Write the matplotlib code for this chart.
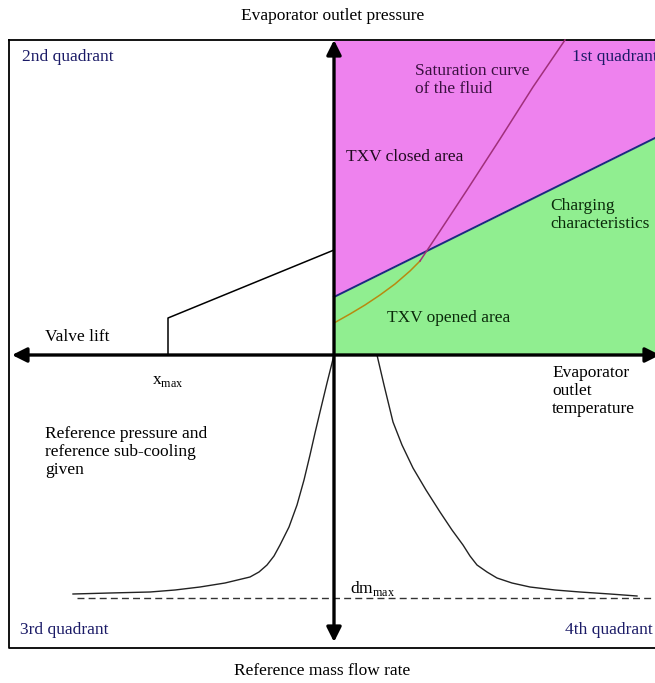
import matplotlib.pyplot as plt

plt.rcParams['font.family'] = ['Liberation Serif', 'DejaVu Serif']

# schematic coordinates (pixel space, y downwards)
x_origin, y_origin = 334, 355
box = (9, 40, 662, 648)               # left, top, right, bottom

# charging characteristics line in the 1st quadrant
charge_x = [334, 655]
charge_y = [297, 138]

# saturation curve of the fluid (lower part under the line, upper part above)
sat_low_x = [334, 350, 365, 380, 395, 410, 420]
sat_low_y = [323, 314, 305, 295, 284, 271, 261]
sat_up_x = [420, 440, 467, 500, 533, 565]
sat_up_y = [261, 231, 190, 139, 87, 40]

# valve lift characteristic in the 2nd quadrant
valve_x = [334, 168, 168]
valve_y = [250, 318, 355]

# mass flow curves in the 3rd and 4th quadrants
left_x = [334, 327, 320, 315, 310, 304, 297, 289, 280, 274, 267, 259, 250,
          225, 200, 175, 150, 110, 73]
left_y = [355, 383, 412, 433, 455, 480, 505, 527, 545, 556, 565, 572, 577,
          583, 587, 590, 592, 593, 594]
right_x = [377, 384, 393, 402, 413, 426, 440, 452, 463, 470, 477, 487, 497,
           512, 530, 555, 580, 610, 637]
right_y = [355, 385, 422, 445, 468, 490, 512, 530, 545, 556, 565, 572, 578,
           583, 587, 590, 592, 594, 596]

dm_max_y = 598
dm_x = [77, 655]

fig = plt.figure(figsize=(6.55, 6.83), dpi=100)
ax = fig.add_axes([0, 0, 1, 1])
ax.set_xlim(0, 655)
ax.set_ylim(683, 0)
ax.axis('off')

# coloured areas
ax.fill_between(charge_x, [box[1], box[1]], charge_y, color='#ee82ee', lw=0)
ax.fill_between(charge_x, charge_y, [y_origin, y_origin], color='#90ee90', lw=0)

# outer frame
ax.plot([box[0], box[2], box[2], box[0], box[0]],
        [box[1], box[1], box[3], box[3], box[1]], color='black', lw=1.3)

ax.plot(charge_x, charge_y, color='#1b2a80', lw=1.4)
ax.plot(sat_low_x, sat_low_y, color='#b88a10', lw=1.1)
ax.plot(sat_up_x, sat_up_y, color='#a0307a', lw=1.1)
ax.plot(valve_x, valve_y, color='black', lw=1.1)
ax.plot(left_x, left_y, color='#222222', lw=1.0)
ax.plot(right_x, right_y, color='#222222', lw=1.0)
ax.plot(dm_x, [dm_max_y, dm_max_y], color='#333333', lw=1.0, ls=(0, (5, 3)))

# axes with arrows
arrow = dict(arrowstyle='<|-|>', lw=2.4, color='black', mutation_scale=22,
             shrinkA=0, shrinkB=0)
ax.annotate('', xy=(x_origin, 40), xytext=(x_origin, 642), arrowprops=arrow)
ax.annotate('', xy=(12, y_origin), xytext=(660, y_origin), arrowprops=arrow)

fs = 12.5
navy = '#1a1a66'
ax.text(333, 16, 'Evaporator outlet pressure', ha='center', va='center', fontsize=fs)
ax.text(22, 57, '2nd quadrant', va='center', fontsize=fs, color=navy)
ax.text(572, 57, '1st quadrant', va='center', fontsize=fs, color=navy)
ax.text(415, 80, 'Saturation curve\nof the fluid', va='center', fontsize=fs,
        color='#3a1040')
ax.text(346, 157, 'TXV closed area', va='center', fontsize=fs, color='#200a20')
ax.text(550, 215, 'Charging\ncharacteristics', va='center', fontsize=fs,
        color='#0a2a0a')
ax.text(387, 318, 'TXV opened area', va='center', fontsize=fs, color='#0a2a0a')
ax.text(45, 337, 'Valve lift', va='center', fontsize=fs)
ax.text(152, 381, r'x$_{\mathregular{max}}$', va='center', fontsize=fs)
ax.text(552, 391, 'Evaporator\noutlet\ntemperature', va='center', fontsize=fs)
ax.text(45, 452, 'Reference pressure and\nreference sub-cooling\ngiven',
        va='center', fontsize=fs)
ax.text(350, 588, r'dm$_{\mathregular{max}}$', va='center', fontsize=fs)
ax.text(20, 630, '3rd quadrant', va='center', fontsize=fs, color=navy)
ax.text(565, 630, '4th quadrant', va='center', fontsize=fs, color=navy)
ax.text(322, 671, 'Reference mass flow rate', ha='center', va='center', fontsize=fs)

plt.savefig('out.png', dpi=100)
